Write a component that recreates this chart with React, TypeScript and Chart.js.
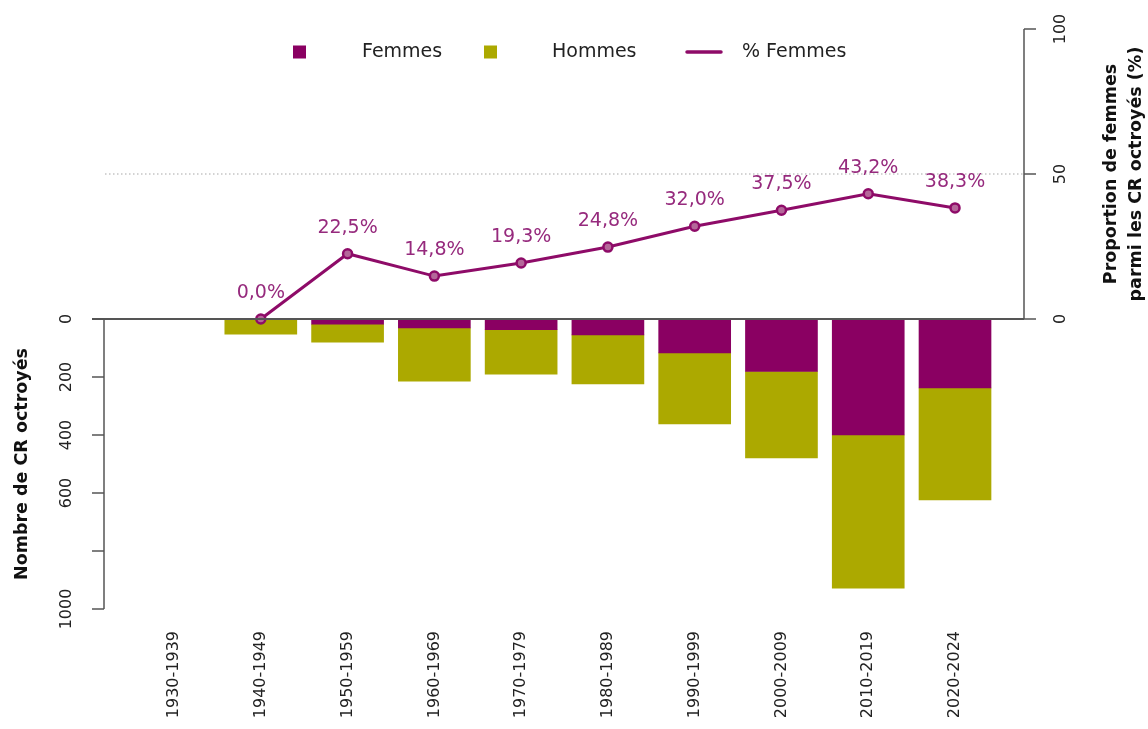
import React, { useEffect, useRef } from "react";
import { Chart, registerables } from "chart.js";

Chart.register(...registerables);

const categories = [
  "1930-1939",
  "1940-1949",
  "1950-1959",
  "1960-1969",
  "1970-1979",
  "1980-1989",
  "1990-1999",
  "2000-2009",
  "2010-2019",
  "2020-2024",
];
const femmes = [0, 0, 18, 31, 37, 55, 117, 181, 400, 238];
const hommes = [0, 52, 62, 183, 153, 169, 245, 298, 528, 386];
const pctFemmes: (number | null)[] = [null, 0.0, 22.5, 14.8, 19.3, 24.8, 32.0, 37.5, 43.2, 38.3];
const barTicks = [0, 200, 400, 600, 800, 1000];
const barTickLabels = ["0", "200", "400", "600", "", "1000"];
const pctTicks = [0, 50, 100];
const pctTickLabels = ["0", "50", "100"];

const PURPLE = "#8a0062";
const OLIVE = "#aca900";
const LINE = "#8e0b68";
const LABEL = "#962a7d";
const AXIS = "#555555";
const FONT = "'DejaVu Sans', sans-serif";

const fmtPct = (v: number) => v.toFixed(1).replace(".", ",") + "%";

const decorPlugin = {
  id: "decor",
  beforeDatasetsDraw(chart: any) {
    const ctx = chart.ctx;
    const yPct = chart.scales.yPct;
    const area = chart.chartArea;
    ctx.save();
    ctx.strokeStyle = "#a8a8a8";
    ctx.lineWidth = 1.2;
    ctx.setLineDash([1.5, 2.5]);
    const y50 = yPct.getPixelForValue(50);
    ctx.beginPath();
    ctx.moveTo(area.left + 1, y50);
    ctx.lineTo(area.right, y50);
    ctx.stroke();
    ctx.restore();
  },
  afterDatasetsDraw(chart: any) {
    const ctx = chart.ctx;
    const x = chart.scales.x;
    const yBar = chart.scales.yBar;
    const yPct = chart.scales.yPct;
    const area = chart.chartArea;
    ctx.save();

    // zero line
    const y0 = yBar.getPixelForValue(0);
    ctx.strokeStyle = AXIS;
    ctx.lineWidth = 1.8;
    ctx.beginPath();
    ctx.moveTo(area.left - 12, y0);
    ctx.lineTo(area.right, y0);
    ctx.stroke();

    // left axis
    ctx.lineWidth = 1.5;
    ctx.beginPath();
    ctx.moveTo(area.left, y0);
    ctx.lineTo(area.left, yBar.getPixelForValue(1000));
    ctx.stroke();
    ctx.fillStyle = "#222";
    ctx.font = `16px ${FONT}`;
    ctx.textAlign = "center";
    ctx.textBaseline = "middle";
    barTicks.forEach((t, i) => {
      const py = yBar.getPixelForValue(t);
      ctx.beginPath();
      ctx.moveTo(area.left - 12, py);
      ctx.lineTo(area.left, py);
      ctx.stroke();
      if (barTickLabels[i]) {
        ctx.save();
        ctx.translate(area.left - 37, py);
        ctx.rotate(-Math.PI / 2);
        ctx.fillText(barTickLabels[i], 0, 0);
        ctx.restore();
      }
    });

    // right axis
    ctx.beginPath();
    ctx.moveTo(area.right, yPct.getPixelForValue(0));
    ctx.lineTo(area.right, yPct.getPixelForValue(100));
    ctx.stroke();
    pctTicks.forEach((t, i) => {
      const py = yPct.getPixelForValue(t);
      ctx.beginPath();
      ctx.moveTo(area.right, py);
      ctx.lineTo(area.right + 12, py);
      ctx.stroke();
      ctx.save();
      ctx.translate(area.right + 37, py);
      ctx.rotate(-Math.PI / 2);
      ctx.fillText(pctTickLabels[i], 0, 0);
      ctx.restore();
    });

    // x labels
    ctx.textAlign = "right";
    categories.forEach((c, i) => {
      const px = x.getPixelForValue(i);
      ctx.save();
      ctx.translate(px, area.bottom + 22);
      ctx.rotate(-Math.PI / 2);
      ctx.fillText(c, 0, 0);
      ctx.restore();
    });

    // axis titles
    ctx.font = `bold 17.5px ${FONT}`;
    ctx.fillStyle = "#111";
    ctx.textAlign = "center";
    ctx.textBaseline = "alphabetic";
    ctx.save();
    ctx.translate(27, (y0 + yBar.getPixelForValue(1000)) / 2);
    ctx.rotate(-Math.PI / 2);
    ctx.fillText("Nombre de CR octroyés", 0, 0);
    ctx.restore();
    const midPct = (yPct.getPixelForValue(0) + yPct.getPixelForValue(100)) / 2;
    ctx.save();
    ctx.translate(1116, midPct);
    ctx.rotate(-Math.PI / 2);
    ctx.fillText("Proportion de femmes", 0, 0);
    ctx.restore();
    ctx.save();
    ctx.translate(1141, midPct);
    ctx.rotate(-Math.PI / 2);
    ctx.fillText("parmi les CR octroyés (%)", 0, 0);
    ctx.restore();

    // percent labels
    ctx.font = `19px ${FONT}`;
    ctx.fillStyle = LABEL;
    ctx.textAlign = "center";
    ctx.textBaseline = "middle";
    pctFemmes.forEach((v, i) => {
      if (v === null) return;
      ctx.fillText(fmtPct(v), x.getPixelForValue(i), yPct.getPixelForValue(v) - 26);
    });

    // legend
    const ly = 52;
    ctx.font = `19px ${FONT}`;
    ctx.textAlign = "left";
    ctx.fillStyle = PURPLE;
    ctx.fillRect(293, ly - 6.5, 13, 13);
    ctx.fillStyle = OLIVE;
    ctx.fillRect(484, ly - 6.5, 13, 13);
    ctx.strokeStyle = LINE;
    ctx.lineWidth = 3.5;
    ctx.lineCap = "round";
    ctx.beginPath();
    ctx.moveTo(687, ly);
    ctx.lineTo(721, ly);
    ctx.stroke();
    ctx.fillStyle = "#222";
    ctx.fillText("Femmes", 362, ly);
    ctx.fillText("Hommes", 552, ly);
    ctx.fillText("% Femmes", 742, ly);

    ctx.restore();
  },
};

export default function App() {
  const ref = useRef<HTMLCanvasElement | null>(null);
  useEffect(() => {
    if (!ref.current) return;
    const chart = new Chart(ref.current, {
      type: "bar",
      data: {
        datasets: [
          {
            type: "line",
            label: "% Femmes",
            yAxisID: "yPct",
            data: pctFemmes
              .map((v, i) => (v === null ? null : { x: i, y: v }))
              .filter((p) => p !== null) as any,
            borderColor: LINE,
            borderWidth: 3,
            pointRadius: 4.5,
            pointBorderWidth: 2.5,
            pointBackgroundColor: "#b5679a",
            pointBorderColor: LINE,
            order: 0,
            stack: "line",
          } as any,
          {
            label: "Femmes",
            yAxisID: "yBar",
            data: femmes.map((v, i) => ({ x: i, y: v })) as any,
            backgroundColor: PURPLE,
            borderWidth: 0,
            order: 1,
            stack: "bars",
          },
          {
            label: "Hommes",
            yAxisID: "yBar",
            data: hommes.map((v, i) => ({ x: i, y: v })) as any,
            backgroundColor: OLIVE,
            borderWidth: 0,
            order: 1,
            stack: "bars",
          },
        ],
      },
      options: {
        animation: false,
        responsive: false,
        devicePixelRatio: 1,
        layout: { padding: { left: 104, right: 124, top: 29, bottom: 120 } },
        datasets: { bar: { barThickness: 72 } },
        plugins: { legend: { display: false }, tooltip: { enabled: false } },
        scales: {
          x: { type: "linear", min: -0.807, max: 9.795, offset: false, display: false, stacked: true },
          yBar: { type: "linear", min: -1000, max: 1000, reverse: true, display: false, stacked: true },
          yPct: { type: "linear", min: -100, max: 100, display: false },
        },
      },
      plugins: [decorPlugin],
    });
    return () => chart.destroy();
  }, []);
  return (
    <div style={{ position: "fixed", left: 0, top: 0, width: 1148, height: 729, background: "#fff" }}>
      <canvas ref={ref} width={1148} height={729} />
    </div>
  );
}
